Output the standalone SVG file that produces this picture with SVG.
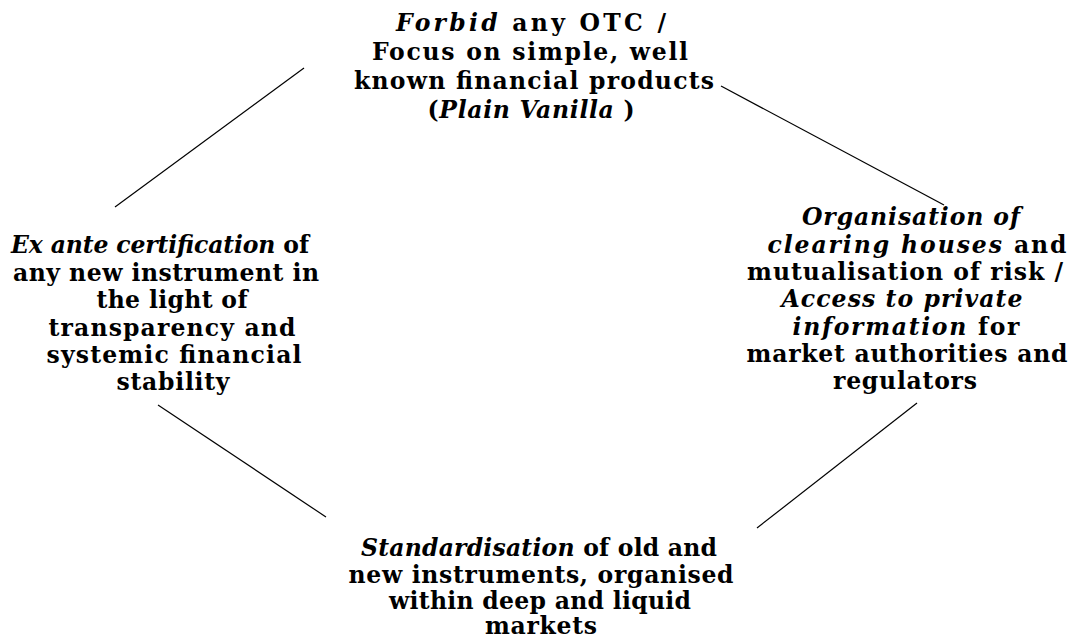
<svg xmlns="http://www.w3.org/2000/svg" width="1072" height="635" viewBox="0 0 1072 635">
<style>
text{font-family:"DejaVu Serif","Liberation Serif",serif;font-size:23.5px;font-weight:bold;fill:#000;text-anchor:middle}
.i{font-style:italic}
.s{text-anchor:start}
line{stroke:#000;stroke-width:1.2}
</style>
<rect width="1072" height="635" fill="#fff"/>
<g id="connectors">
<line x1="115" y1="207" x2="304" y2="68"/>
<line x1="721" y1="86" x2="944" y2="205"/>
<line x1="158" y1="405" x2="326" y2="517"/>
<line x1="757" y1="528" x2="917" y2="403"/>
</g>
<g id="top">
<text x="531" y="31" textLength="270" lengthAdjust="spacing"><tspan class="i">Forbid</tspan> any  OTC /</text>
<text x="530" y="60" textLength="316" lengthAdjust="spacing">Focus on simple, well</text>
<text x="534" y="89" textLength="360" lengthAdjust="spacing">known financial products</text>
<text x="531" y="118" textLength="207" lengthAdjust="spacing">(<tspan class="i">Plain Vanilla</tspan> )</text>
</g>
<g id="left">
<text class="s" x="11" y="253" textLength="298" lengthAdjust="spacing"><tspan class="i">Ex ante certification</tspan> of</text>
<text class="s" x="13" y="281" textLength="306" lengthAdjust="spacing">any new instrument in</text>
<text x="172" y="308" textLength="151" lengthAdjust="spacing">the light of</text>
<text x="172" y="336" textLength="247" lengthAdjust="spacing">transparency  and</text>
<text x="174" y="363" textLength="255" lengthAdjust="spacing">systemic financial</text>
<text x="173" y="390" textLength="113" lengthAdjust="spacing">stability</text>
</g>
<g id="right">
<text x="911" y="225" class="i" textLength="218" lengthAdjust="spacing">Organisation of</text>
<text x="917" y="253" textLength="299" lengthAdjust="spacing"><tspan class="i">clearing houses</tspan> and</text>
<text x="905" y="280" textLength="316" lengthAdjust="spacing">mutualisation of risk /</text>
<text x="902" y="307" class="i" textLength="241" lengthAdjust="spacing">Access to private</text>
<text x="906" y="335" textLength="227" lengthAdjust="spacing"><tspan class="i">information</tspan>  for</text>
<text x="907" y="362" textLength="321" lengthAdjust="spacing">market authorities and</text>
<text x="905" y="389" textLength="144" lengthAdjust="spacing">regulators</text>
</g>
<g id="bottom">
<text x="539" y="556" textLength="356" lengthAdjust="spacing"><tspan class="i">Standardisation</tspan> of old and</text>
<text x="541" y="583" textLength="385" lengthAdjust="spacing">new instruments, organised</text>
<text x="540" y="609" textLength="302" lengthAdjust="spacing">within deep and liquid</text>
<text x="541" y="634" textLength="112" lengthAdjust="spacing">markets</text>
</g>
</svg>
